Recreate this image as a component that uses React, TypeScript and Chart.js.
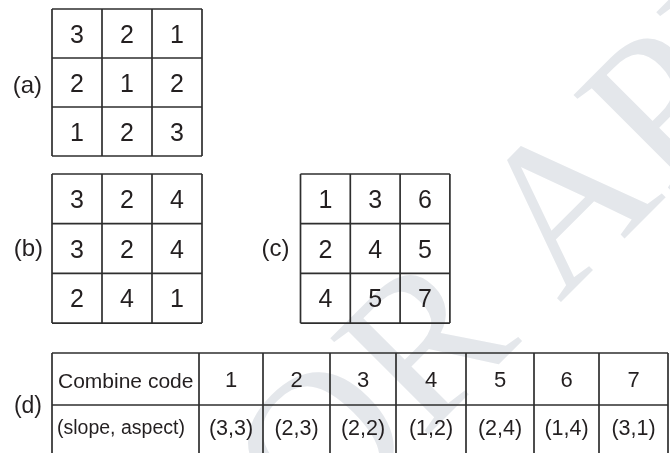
import React, { useEffect, useRef } from "react";
import { Chart, registerables } from "chart.js";

Chart.register(...registerables);

// ---------- data ----------
const gridA: number[][] = [
  [3, 2, 1],
  [2, 1, 2],
  [1, 2, 3],
];
const gridB: number[][] = [
  [3, 2, 4],
  [3, 2, 4],
  [2, 4, 1],
];
const gridC: number[][] = [
  [1, 3, 6],
  [2, 4, 5],
  [4, 5, 7],
];
const gridLabels = ["(a)", "(b)", "(c)"];
const tableLabel = "(d)";
const tableRowLabels = ["Combine code", "(slope, aspect)"];
const combineCodes = [1, 2, 3, 4, 5, 6, 7];
const slopeAspect = ["(3,3)", "(2,3)", "(2,2)", "(1,2)", "(2,4)", "(1,4)", "(3,1)"];
const watermarkText = "FOR APPROVAL";

// ---------- layout (scale units) ----------
const W = 670;
const H = 453;
const gridLayouts = [
  { left: 52, top: 9, cw: 50, ch: 49, labelRight: 42, labelBase: 93 },
  { left: 52, top: 174, cw: 50, ch: 49.7, labelRight: 43, labelBase: 256 },
  { left: 300.5, top: 174, cw: 49.8, ch: 49.7, labelRight: 289.5, labelBase: 256 },
];
const tableLayout = {
  top: 353,
  rowH: 52,
  cols: [52, 199, 263, 330, 396, 466, 534, 599, 668],
  labelRight: 42,
  labelBase: 413,
};
const watermarkLayout = { anchorX: 613, anchorY: 250, angle: -45, size: 210 };

const SANS = "'Liberation Sans', Arial, sans-serif";
const LINE = "#2e2e2e";
const TEXT = "#231f20";

const drawPlugin = {
  id: "figureDraw",
  beforeDatasetsDraw(chart: any) {
    const ctx: CanvasRenderingContext2D = chart.ctx;
    const xs = chart.scales.x;
    const ys = chart.scales.y;
    const px = (v: number) => xs.getPixelForValue(v);
    const py = (v: number) => ys.getPixelForValue(v);

    ctx.save();
    // watermark (anchored at centre of the "A")
    const WM = watermarkLayout;
    ctx.font = `${WM.size}px 'Liberation Serif', serif`;
    ctx.fillStyle = "#e4e7eb";
    ctx.translate(px(WM.anchorX), py(WM.anchorY));
    ctx.rotate((WM.angle * Math.PI) / 180);
    const pre = ctx.measureText("FOR ").width + ctx.measureText("A").width / 2;
    ctx.textAlign = "left";
    ctx.textBaseline = "alphabetic";
    ctx.fillText(watermarkText, -pre, 0);
    ctx.restore();

    const grids = [gridA, gridB, gridC];
    ctx.save();
    ctx.strokeStyle = LINE;
    ctx.lineWidth = 1.7;
    ctx.fillStyle = TEXT;
    grids.forEach((g, gi) => {
      const L = gridLayouts[gi];
      const rows = g.length;
      const cols = g[0].length;
      for (let r = 0; r <= rows; r++) {
        ctx.beginPath();
        ctx.moveTo(px(L.left), py(L.top + r * L.ch));
        ctx.lineTo(px(L.left + cols * L.cw), py(L.top + r * L.ch));
        ctx.stroke();
      }
      for (let c = 0; c <= cols; c++) {
        ctx.beginPath();
        ctx.moveTo(px(L.left + c * L.cw), py(L.top));
        ctx.lineTo(px(L.left + c * L.cw), py(L.top + rows * L.ch));
        ctx.stroke();
      }
      ctx.font = `25px ${SANS}`;
      ctx.textAlign = "center";
      ctx.textBaseline = "alphabetic";
      g.forEach((row, r) =>
        row.forEach((v, c) => {
          const cx = px(L.left + (c + 0.5) * L.cw);
          const cy = py(L.top + (r + 0.5) * L.ch) + 9;
          ctx.fillText(String(v), cx, cy);
        })
      );
      ctx.font = `24px ${SANS}`;
      ctx.textAlign = "right";
      ctx.fillText(gridLabels[gi], px(L.labelRight), py(L.labelBase));
    });

    // table
    const T = tableLayout;
    for (let r = 0; r <= 2; r++) {
      ctx.beginPath();
      ctx.moveTo(px(T.cols[0]), py(T.top + r * T.rowH));
      ctx.lineTo(px(T.cols[T.cols.length - 1]), py(T.top + r * T.rowH));
      ctx.stroke();
    }
    T.cols.forEach((cx) => {
      ctx.beginPath();
      ctx.moveTo(px(cx), py(T.top));
      ctx.lineTo(px(cx), py(T.top + 2 * T.rowH));
      ctx.stroke();
    });
    ctx.textAlign = "left";
    ctx.font = `21px ${SANS}`;
    ctx.fillText(tableRowLabels[0], px(T.cols[0] + 6), py(T.top + 35));
    ctx.font = `19.5px ${SANS}`;
    ctx.fillText(tableRowLabels[1], px(T.cols[0] + 5), py(T.top + 81));
    ctx.textAlign = "center";
    combineCodes.forEach((code, i) => {
      const cx = (T.cols[i + 1] + T.cols[i + 2]) / 2;
      ctx.font = `22px ${SANS}`;
      ctx.fillText(String(code), px(cx), py(T.top + 34));
      ctx.font = `21.5px ${SANS}`;
      ctx.fillText(slopeAspect[i], px(cx), py(T.top + 82));
    });
    ctx.font = `23px ${SANS}`;
    ctx.textAlign = "right";
    ctx.fillText(tableLabel, px(T.labelRight), py(T.labelBase));
    ctx.restore();
  },
};

export default function App() {
  const ref = useRef<HTMLCanvasElement | null>(null);
  useEffect(() => {
    if (!ref.current) return;
    const chart = new Chart(ref.current, {
      type: "scatter",
      data: { datasets: [{ data: [], pointRadius: 0 }] },
      options: {
        animation: false,
        responsive: false,
        devicePixelRatio: 1,
        events: [],
        layout: { padding: 0 },
        plugins: { legend: { display: false }, tooltip: { enabled: false } },
        scales: {
          x: { type: "linear", min: 0, max: W, display: false },
          y: { type: "linear", min: 0, max: H, reverse: true, display: false },
        },
      },
      plugins: [drawPlugin],
    });
    return () => chart.destroy();
  }, []);
  return (
    <div style={{ position: "absolute", left: 0, top: 0, width: W, height: H, background: "#fff" }}>
      <canvas ref={ref} width={W} height={H} style={{ display: "block" }} />
    </div>
  );
}
